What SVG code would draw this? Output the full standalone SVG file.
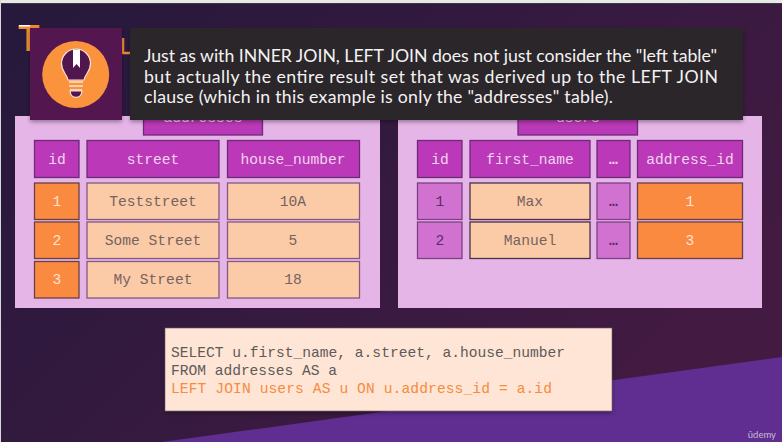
<svg xmlns="http://www.w3.org/2000/svg" width="782" height="442" viewBox="0 0 782 442">
<style>
.m{font-family:"Liberation Mono","DejaVu Sans Mono",monospace;font-size:14.6px;text-anchor:middle}
.e{font-weight:700}
.cell{stroke-width:1.3}
.h{fill:#bb39b8;stroke:#6c2a78}
.p{fill:#d272d0;stroke:#7d3f86}
.o{fill:#fa8a40;stroke:#6a4045}
.c{fill:#fbcba8;stroke:#84587f}
.tw{fill:#f3d3ef}.tl{fill:#ffe3cf}.td{fill:#76625e}.tp{fill:#5d2a6a}
.b{font-family:"Lato","Open Sans",sans-serif;font-size:17.7px;fill:#f4f2f2}
.k{font-family:"Liberation Mono","DejaVu Sans Mono",monospace;font-size:14.6px}
</style>
<defs>
<linearGradient id="bg" x1="0" y1="0" x2="1" y2="0.6"><stop offset="0" stop-color="#25193c"/><stop offset="1" stop-color="#431a42"/></linearGradient>
<filter id="sh" x="-5%" y="-5%" width="110%" height="115%"><feDropShadow dx="0" dy="2" stdDeviation="2" flood-color="#000" flood-opacity=".35"/></filter>
</defs>
<rect width="782" height="442" fill="url(#bg)"/>
<rect width="782" height="3" fill="#e8e8e8"/>
<rect y="3" width="782" height="1" fill="#3a3a3a"/>
<rect width="1" height="442" fill="#d8d8d8"/>
<polygon points="162,442 782,357 782,442" fill="#5f2e90"/>
<g id="title-fragments">
<text x="18" y="51" font-family="Lato,sans-serif" font-size="36" font-weight="700" fill="#f58a35">T</text>
<rect x="19" y="25" width="11" height="1.500" fill="#fff"/>
<path d="M123 38V53H130" fill="none" stroke="#f58a35" stroke-width="2.500"/>
</g>
<g id="addresses">
<rect x="15" y="116" width="365" height="192" fill="#e6b5e8"/>
<rect class="cell h" x="143.500" y="105" width="119" height="30"/>
<text class="m tw" x="203" y="122">addresses</text>
<rect class="cell h" x="34.500" y="140.500" width="44.500" height="37"/><text class="m tw" x="57" y="164">id</text>
<rect class="cell h" x="87" y="140.500" width="132" height="37"/><text class="m tw" x="153" y="164">street</text>
<rect class="cell h" x="227.500" y="140.500" width="132" height="37"/><text class="m tw" x="293" y="164">house_number</text>
<rect class="cell o" x="34.500" y="183" width="44.500" height="36.500"/><text class="m tl" x="57" y="206">1</text>
<rect class="cell c" x="87" y="183" width="132" height="36.500"/><text class="m td" x="153" y="206">Teststreet</text>
<rect class="cell c" x="227.500" y="183" width="132" height="36.500"/><text class="m td" x="293" y="206">10A</text>
<rect class="cell o" x="34.500" y="222" width="44.500" height="36.500"/><text class="m tl" x="57" y="245">2</text>
<rect class="cell c" x="87" y="222" width="132" height="36.500"/><text class="m td" x="153" y="245">Some Street</text>
<rect class="cell c" x="227.500" y="222" width="132" height="36.500"/><text class="m td" x="293" y="245">5</text>
<rect class="cell o" x="34.500" y="261.500" width="44.500" height="36.500"/><text class="m tl" x="57" y="284">3</text>
<rect class="cell c" x="87" y="261.500" width="132" height="36.500"/><text class="m td" x="153" y="284">My Street</text>
<rect class="cell c" x="227.500" y="261.500" width="132" height="36.500"/><text class="m td" x="293" y="284">18</text>
</g>
<g id="users">
<rect x="398" y="116" width="364" height="192" fill="#e6b5e8"/>
<rect class="cell h" x="518" y="105" width="119.500" height="30"/>
<text class="m tw" x="578" y="122">users</text>
<rect class="cell h" x="417.500" y="140.500" width="44.500" height="37"/><text class="m tw" x="440" y="164">id</text>
<rect class="cell h" x="470" y="140.500" width="120" height="37"/><text class="m tw" x="530" y="164">first_name</text>
<rect class="cell h" x="597" y="140.500" width="33" height="37"/><text class="m tw e" x="613.500" y="164">…</text>
<rect class="cell h" x="637.500" y="140.500" width="105" height="37"/><text class="m tw" x="690" y="164">address_id</text>
<rect class="cell p" x="417.500" y="183" width="44.500" height="36.500"/><text class="m tp" x="440" y="206">1</text>
<rect class="cell c" x="470" y="183" width="120" height="36.500" style="stroke:#4a3048"/><text class="m td" x="530" y="206">Max</text>
<rect class="cell p" x="597" y="183" width="33" height="36.500"/><text class="m tp e" x="613.500" y="206">…</text>
<rect class="cell o" x="637.500" y="183" width="105" height="36.500"/><text class="m tl" x="690" y="206">1</text>
<rect class="cell p" x="417.500" y="222" width="44.500" height="36.500"/><text class="m tp" x="440" y="245">2</text>
<rect class="cell c" x="470" y="222" width="120" height="36.500" style="stroke:#4a3048"/><text class="m td" x="530" y="245">Manuel</text>
<rect class="cell p" x="597" y="222" width="33" height="36.500"/><text class="m tp e" x="613.500" y="245">…</text>
<rect class="cell o" x="637.500" y="222" width="105" height="36.500"/><text class="m tl" x="690" y="245">3</text>
</g>
<g id="query">
<rect x="165" y="328" width="447" height="83" fill="#fee5d6" stroke="#6b5a60" stroke-width=".6" filter="url(#sh)"/>
<text class="k" x="171" y="357" fill="#5f5a58" textLength="394">SELECT u.first_name, a.street, a.house_number</text>
<text class="k" x="171" y="375" fill="#5f5a58" textLength="166">FROM addresses AS a</text>
<text class="k" x="171" y="393" fill="#f78b3f" textLength="381">LEFT JOIN users AS u ON u.address_id = a.id</text>
</g>
<g id="tip-icon">
<rect x="30" y="28" width="92" height="92" fill="#52164f" filter="url(#sh)"/>
<circle cx="75.700" cy="74.500" r="33.500" fill="#fb923c"/>
<path d="M68 80C67 74 61.500 72 61.500 63.500A14.500 14.500 0 0 1 90.500 63.500C90.500 72 85 74 84 80Z" fill="#52164f" stroke="#fbe3d2" stroke-width="1.200"/>
<path d="M73 49.500H80V68L76.500 64L73 68Z" fill="#fff"/>
<path d="M69 82H83M69 86H83M70 90H82" stroke="#fbe3d2" stroke-width="1.500" fill="none"/>
<path d="M70 91C71 99.500 81 99.500 82 91Z" fill="#52164f" stroke="#fbe3d2" stroke-width="1.200"/>
</g>
<g id="tooltip">
<rect x="130" y="28" width="613" height="92" fill="#2a2729" filter="url(#sh)"/>
<text class="b" x="144" y="62" textLength="573">Just as with INNER JOIN, LEFT JOIN does not just consider the "left table"</text>
<text class="b" x="144" y="82.500" textLength="574">but actually the entire result set that was derived up to the LEFT JOIN</text>
<text class="b" x="144" y="103" textLength="469">clause (which in this example is only the "addresses" table).</text>
</g>
<text x="776" y="438" font-family="Lato,sans-serif" font-size="9.500" fill="#c9bdd8" text-anchor="end">ûdemy</text>
</svg>
